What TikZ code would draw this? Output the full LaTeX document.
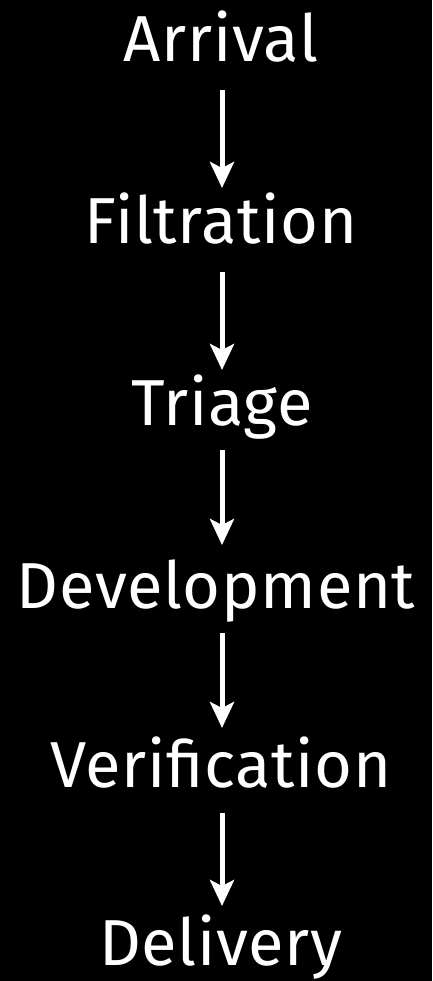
\documentclass[tikz,border=0pt]{standalone}
\usepackage{fontspec}
\setmainfont{Fira Sans}[LetterSpace=1]
\usetikzlibrary{arrows.meta}
\begin{document}
\begin{tikzpicture}[x=1pt,y=-1pt,
  lbl/.style={text=white,font=\fontsize{65}{70}\selectfont,anchor=base,inner sep=0pt},
  flow/.style={draw=white,line width=5pt,-{Stealth[length=26pt,width=24pt,inset=6pt]}}]
\fill[black] (0,0) rectangle (432,981);
\useasboundingbox (0,0) rectangle (432,981);
\node[lbl] (a) at (221,62) {Arrival};
\node[lbl] (b) at (221,244) {Filtration};
\node[lbl] (c) at (222,425) {Triage};
\node[lbl] (d) at (216,608) {Development};
\node[lbl] (e) at (221,787) {Verification};
\node[lbl] (f) at (221,965) {Delivery};
\coordinate (a1) at (222,90); \coordinate (a2) at (222,188);
\coordinate (b1) at (222,272); \coordinate (b2) at (222,370);
\coordinate (c1) at (222,450); \coordinate (c2) at (222,545);
\coordinate (d1) at (222,633); \coordinate (d2) at (222,728);
\coordinate (e1) at (222,813); \coordinate (e2) at (222,906);
\draw[flow] (a1) -- (a2);
\draw[flow] (b1) -- (b2);
\draw[flow] (c1) -- (c2);
\draw[flow] (d1) -- (d2);
\draw[flow] (e1) -- (e2);
\end{tikzpicture}
\end{document}
